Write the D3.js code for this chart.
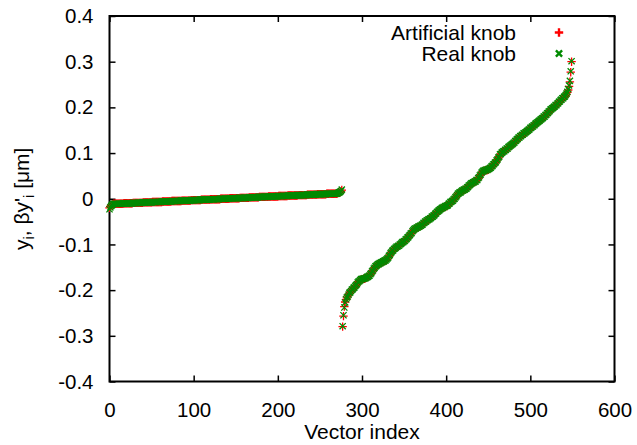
<!DOCTYPE html>
<html>
<head>
<meta charset="utf-8">
<script src="https://cdn.jsdelivr.net/npm/d3@7"></script>
<style>
  body { margin: 0; background: #fff; }
  svg { display: block; }
  text { font-family: "Liberation Sans", Arial, Helvetica, sans-serif; fill: #000; }
</style>
</head>
<body>
<svg id="chart" width="637" height="445"></svg>
<script>
// Axis ticks
const xTicks = [0, 100, 200, 300, 400, 500, 600];
const yTicks = [-0.4, -0.3, -0.2, -0.1, 0, 0.1, 0.2, 0.3, 0.4];
const seriesNames = ["Artificial knob", "Real knob"];

// Sorted vector components in nm, one value per vector index.
// First block: y_i ; second block: beta*y'_i
const artificialY = [
  -20,-17,-15,-13,-12,
  -11,-11,-11,-11,-11,-11,-11,-11,-11,-11,-11,-11,
  -10,-10,-10,-10,-10,-10,-10,-10,-10,-10,-10,
  -9,-9,-9,-9,-9,-9,-9,-9,-9,-9,-9,-9,
  -8,-8,-8,-8,-8,-8,-8,-8,-8,-8,-8,
  -7,-7,-7,-7,-7,-7,-7,-7,-7,-7,-7,-7,
  -6,-6,-6,-6,-6,-6,-6,-6,-6,-6,-6,
  -5,-5,-5,-5,-5,-5,-5,-5,-5,-5,-5,-5,
  -4,-4,-4,-4,-4,-4,-4,-4,-4,-4,-4,
  -3,-3,-3,-3,-3,-3,-3,-3,-3,-3,-3,-3,
  -2,-2,-2,-2,-2,-2,-2,-2,-2,-2,-2,
  -1,-1,-1,-1,-1,-1,-1,-1,-1,-1,-1,-1,
  0,0,0,0,0,0,0,0,0,0,0,
  1,1,1,1,1,1,1,1,1,1,1,1,
  2,2,2,2,2,2,2,2,2,2,2,
  3,3,3,3,3,3,3,3,3,3,3,3,
  4,4,4,4,4,4,4,4,4,4,4,
  5,5,5,5,5,5,5,5,5,5,5,5,
  6,6,6,6,6,6,6,6,6,6,6,
  7,7,7,7,7,7,7,7,7,7,7,7,
  8,8,8,8,8,8,8,8,8,8,8,
  9,9,9,9,9,9,9,9,9,9,9,9,
  10,10,10,10,10,10,10,10,10,10,10,
  11,11,11,11,11,11,11,11,11,11,11,11,11,
  12,13,13,14,16,19
];
const artificialYp = [
  -280,-257,-236,-226,-221,-217,-213,-210,-207,-204,-202,-200,-198,-196,-194,-192,-190,-187,-184,-181,
  -179,-178,-177,-176,-176,-175,-175,-174,-173,-172,-171,-170,-168,-166,-163,-160,-157,-154,-151,-149,
  -147,-145,-144,-143,-142,-141,-140,-139,-138,-137,-136,-135,-134,-132,-129,-126,-123,-120,-117,-115,
  -113,-111,-109,-107,-106,-105,-104,-103,-101,-99,-97,-96,-95,-94,-92,-90,-88,-86,-84,-82,
  -79,-77,-75,-72,-69,-67,-66,-65,-64,-63,-62,-61,-60,-59,-58,-56,-54,-53,-51,-50,
  -48,-47,-46,-45,-44,-42,-40,-39,-38,-36,-34,-32,-30,-28,-27,-25,-24,-22,-21,-20,
  -19,-18,-17,-16,-16,-14,-12,-10,-8,-7,-6,-4,-2,0,2,5,8,10,12,13,
  14,16,17,18,19,20,21,22,24,26,28,30,32,33,34,35,36,37,38,40,
  41,44,47,50,53,56,59,60,61,62,62,63,63,64,65,66,68,70,72,74,
  76,78,80,83,86,89,92,96,98,100,102,103,104,106,107,109,110,112,114,115,
  117,118,120,121,123,125,127,129,131,133,134,136,137,139,140,142,143,144,146,147,
  149,150,152,154,155,157,158,160,161,163,165,166,168,169,171,172,174,175,177,179,
  180,182,184,186,188,190,192,194,196,197,199,200,202,204,205,207,209,211,213,215,
  217,219,220,222,224,226,229,233,238,246,256,277,300
];

const realY = [
  -23,-19,-16,-14,-12,
  -11,-11,-11,-11,-11,-11,-11,-11,-11,-11,-11,
  -10,-10,-10,-10,-10,-10,-10,-10,-10,-10,-10,-10,
  -9,-9,-9,-9,-9,-9,-9,-9,-9,-9,-9,
  -8,-8,-8,-8,-8,-8,-8,-8,-8,-8,-8,-8,
  -7,-7,-7,-7,-7,-7,-7,-7,-7,-7,-7,
  -6,-6,-6,-6,-6,-6,-6,-6,-6,-6,-6,-6,
  -5,-5,-5,-5,-5,-5,-5,-5,-5,-5,-5,
  -4,-4,-4,-4,-4,-4,-4,-4,-4,-4,-4,-4,
  -3,-3,-3,-3,-3,-3,-3,-3,-3,-3,-3,
  -2,-2,-2,-2,-2,-2,-2,-2,-2,-2,-2,-2,
  -1,-1,-1,-1,-1,-1,-1,-1,-1,-1,-1,
  0,0,0,0,0,0,0,0,0,0,0,0,
  1,1,1,1,1,1,1,1,1,1,1,
  2,2,2,2,2,2,2,2,2,2,2,2,
  3,3,3,3,3,3,3,3,3,3,3,
  4,4,4,4,4,4,4,4,4,4,4,4,
  5,5,5,5,5,5,5,5,5,5,5,
  6,6,6,6,6,6,6,6,6,6,6,6,
  7,7,7,7,7,7,7,7,7,7,7,
  8,8,8,8,8,8,8,8,8,8,8,8,
  9,9,9,9,9,9,9,9,9,9,9,
  10,10,10,10,10,10,10,10,10,10,10,10,
  11,11,11,11,11,11,11,11,11,11,11,11,11,
  12,13,14,15,17,20
];
const realYp = [
  -279,-255,-238,-227,-220,-216,-214,-210,-206,-205,-202,-199,-198,-195,-194,-191,-189,-187,-183,-181,
  -180,-178,-176,-176,-175,-175,-174,-174,-173,-171,-171,-169,-168,-165,-163,-159,-157,-153,-151,-148,
  -147,-145,-143,-143,-141,-141,-139,-139,-137,-137,-135,-135,-133,-131,-129,-125,-123,-119,-117,-114,
  -113,-110,-109,-107,-105,-105,-103,-103,-100,-99,-97,-95,-95,-93,-92,-89,-88,-85,-84,-81,
  -79,-76,-75,-71,-69,-67,-65,-65,-63,-63,-61,-61,-59,-59,-57,-56,-53,-53,-50,-50,
  -47,-47,-45,-45,-43,-42,-39,-39,-37,-36,-33,-32,-29,-28,-26,-25,-23,-22,-20,-20,
  -18,-18,-16,-16,-15,-14,-11,-10,-7,-7,-5,-4,-1,0,3,5,8,11,12,14,
  14,16,18,18,20,20,22,22,25,26,29,30,32,34,34,36,36,38,38,41,
  41,45,47,51,53,57,59,61,61,63,62,64,63,65,65,67,68,71,72,75,
  76,79,80,84,86,90,92,97,98,101,102,104,104,107,107,110,110,113,114,116,
  117,119,120,122,123,126,127,130,131,134,134,137,137,140,140,143,143,145,146,148,
  149,151,152,155,155,158,158,161,161,164,165,167,168,170,171,173,174,176,177,180,
  180,183,184,187,188,191,192,195,196,198,199,201,202,205,205,208,209,212,213,216,
  217,220,220,223,224,227,230,234,240,248,258,279,301
];

const artificialKnob = artificialY.concat(artificialYp);
const realKnob = realY.concat(realYp);

// ---- layout ----
const plot = { left: 109.5, right: 614.5, top: 16, bottom: 381.5 };
const FONT = 20.5;
const LABEL_FONT = 21;

const svg = d3.select("#chart");
const x = d3.scaleLinear().domain([0, 600]).range([plot.left, plot.right]);
const y = d3.scaleLinear().domain([-0.4, 0.4]).range([plot.bottom, plot.top]);

const fmtY = d => d3.format(".1f")(d).replace("\u2212", "-").replace(/^0\.0$|^-0\.0$/, "0");
const fmtX = d => String(d);

function styleAxis(g) {
  g.select(".domain").remove();
  g.selectAll(".tick line").attr("stroke", "#000").attr("stroke-width", 1.5);
  g.selectAll("text").attr("font-size", FONT).attr("font-family", null).attr("fill", "#000");
}

// bottom / left axes with labels, ticks pointing inward
svg.append("g").attr("transform", `translate(0,${plot.bottom})`)
  .call(d3.axisBottom(x).tickValues(xTicks).tickFormat(fmtX).tickSizeInner(-6).tickSizeOuter(0).tickPadding(21))
  .call(styleAxis);
svg.append("g").attr("transform", `translate(${plot.left},0)`)
  .call(d3.axisLeft(y).tickValues(yTicks).tickFormat(fmtY).tickSizeInner(-6).tickSizeOuter(0).tickPadding(16))
  .call(styleAxis);
// mirrored ticks on top / right
svg.append("g").attr("transform", `translate(0,${plot.top})`)
  .call(d3.axisTop(x).tickValues(xTicks).tickFormat("").tickSizeInner(-6).tickSizeOuter(0))
  .call(styleAxis);
svg.append("g").attr("transform", `translate(${plot.right},0)`)
  .call(d3.axisRight(y).tickValues(yTicks).tickFormat("").tickSizeInner(-6).tickSizeOuter(0))
  .call(styleAxis);

// frame
svg.append("rect")
  .attr("x", plot.left).attr("y", plot.top)
  .attr("width", plot.right - plot.left).attr("height", plot.bottom - plot.top)
  .attr("fill", "none").attr("stroke", "#000").attr("stroke-width", 2);

// point markers
const plusPath = "M-4.2,0H4.2M0,-4.2V4.2";
const crossPath = "M-3.1,-3.1L3.1,3.1M-3.1,3.1L3.1,-3.1";
const RED = "#ff0000", GREEN = "#008a00";

const pts = svg.append("g");
pts.selectAll("path.art").data(artificialKnob).join("path")
  .attr("class", "art")
  .attr("d", plusPath)
  .attr("transform", (d, i) => `translate(${x(i)},${y(d / 1000)})`)
  .attr("stroke", RED).attr("stroke-width", 1.3).attr("fill", "none");
pts.selectAll("path.real").data(realKnob).join("path")
  .attr("class", "real")
  .attr("d", crossPath)
  .attr("transform", (d, i) => `translate(${x(i)},${y(d / 1000)})`)
  .attr("stroke", GREEN).attr("stroke-width", 1.3).attr("fill", "none");

// legend
const legend = svg.append("g");
const legendRows = [
  { name: seriesNames[0], path: plusPath, color: RED, ty: 40, my: 32.5 },
  { name: seriesNames[1], path: crossPath, color: GREEN, ty: 61, my: 53.5 }
];
legendRows.forEach(r => {
  legend.append("text").attr("x", 516).attr("y", r.ty)
    .attr("text-anchor", "end").attr("font-size", LABEL_FONT).text(r.name);
  legend.append("path").attr("d", r.path)
    .attr("transform", `translate(559,${r.my})`)
    .attr("stroke", r.color).attr("stroke-width", 2.4).attr("fill", "none");
});

// axis titles
svg.append("text")
  .attr("x", (plot.left + plot.right) / 2).attr("y", 439)
  .attr("text-anchor", "middle").attr("font-size", LABEL_FONT)
  .text("Vector index");

const yt = svg.append("text")
  .attr("transform", `translate(29,${(plot.top + plot.bottom) / 2}) rotate(-90)`)
  .attr("text-anchor", "middle").attr("font-size", LABEL_FONT);
yt.append("tspan").text("y");
yt.append("tspan").attr("font-size", LABEL_FONT * 0.7).attr("dy", 5).text("i");
yt.append("tspan").attr("dy", -5).text(", \u03b2y'");
yt.append("tspan").attr("font-size", LABEL_FONT * 0.7).attr("dy", 5).text("i");
yt.append("tspan").attr("dy", -5).text(" [\u03bcm]");
</script>
</body>
</html>
